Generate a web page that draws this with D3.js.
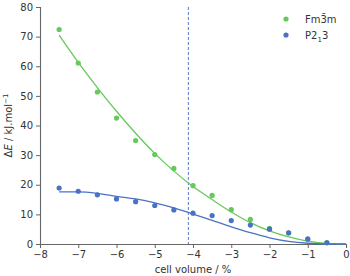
<!DOCTYPE html>
<html>
<head>
<meta charset="utf-8">
<script src="https://cdn.jsdelivr.net/npm/d3@7"></script>
<style>
	body { margin: 0; background: white; }
	text { font-family: "DejaVu Sans", sans-serif; }
</style>
</head>
<body>
<div id="chart"></div>
<script>
// measured points
const pointVolumes = [-7.5, -7, -6.5, -6, -5.5, -5, -4.5, -4, -3.5, -3, -2.5, -2, -1.5, -1, -0.5];
const fm3mPoints = [72.4, 61.1, 51.3, 42.5, 34.9, 30.2, 25.5, 19.7, 16.4, 11.6, 8.3, 5.3, 3.7, 1.5, 0.5];
const p213Points = [18.9, 17.8, 16.6, 15.2, 14.3, 13.0, 11.5, 10.4, 9.6, 7.9, 6.4, 5.0, 3.8, 1.7, 0.4];

// fitted curves
const fitVolumes = [-7.5, -7, -6.5, -6, -5.5, -5, -4.5, -4, -3.5, -3, -2.5, -2, -1.5, -1, -0.5, 0];
const fm3mFit = [70.5, 61.3, 52.8, 44.8, 37.4, 30.6, 24.6, 19.4, 15.0, 10.8, 7.2, 4.4, 2.4, 1.0, 0.2, 0];
const p213Fit = [17.6, 17.6, 17.1, 16.1, 15.2, 13.9, 12.2, 10.1, 8.0, 5.8, 3.8, 2.1, 0.9, 0.25, 0, 0];

const xTicks = [-8, -7, -6, -5, -4, -3, -2, -1, 0];
const yTicks = [0, 10, 20, 30, 40, 50, 60, 70, 80];
const cutoffVolume = -4.12;

const green = "#67c85c";
const blue = "#4a72c4";

const W = 350, H = 276;
const margin = { top: 7, right: 4, bottom: 32, left: 40 };

const svg = d3.select("#chart").append("svg")
	.attr("width", W)
	.attr("height", H);

const x = d3.scaleLinear().domain([-8, 0]).range([margin.left, W - margin.right]);
const y = d3.scaleLinear().domain([0, 80]).range([H - margin.bottom, margin.top]);

// axes
const xAxis = svg.append("g")
	.attr("transform", `translate(0,${H - margin.bottom})`)
	.call(d3.axisBottom(x).tickValues(xTicks).tickSize(4).tickPadding(3)
		.tickFormat(d => d < 0 ? "\u2212" + Math.abs(d) : d));

const yAxis = svg.append("g")
	.attr("transform", `translate(${margin.left},0)`)
	.call(d3.axisLeft(y).tickValues(yTicks).tickSize(4).tickPadding(3));

[xAxis, yAxis].forEach(g => {
	g.select(".domain").attr("stroke", "#666").attr("stroke-width", 1.1);
	g.selectAll(".tick line").attr("stroke", "#666");
	g.selectAll(".tick text").attr("fill", "#333").style("font-size", "10px")
		.style("font-family", "DejaVu Sans, sans-serif");
});

// dashed cutoff line
svg.append("line")
	.attr("x1", x(cutoffVolume)).attr("x2", x(cutoffVolume))
	.attr("y1", y(80)).attr("y2", y(0))
	.attr("stroke", blue)
	.attr("stroke-opacity", 0.85)
	.attr("stroke-width", 1.1)
	.attr("stroke-dasharray", "3,2");

const line = d3.line()
	.x((d, i) => x(fitVolumes[i]))
	.y(d => y(d))
	.curve(d3.curveMonotoneX);

svg.append("path").datum(fm3mFit)
	.attr("fill", "none").attr("stroke", green).attr("stroke-width", 1.3)
	.attr("d", line);

svg.append("path").datum(p213Fit)
	.attr("fill", "none").attr("stroke", blue).attr("stroke-width", 1.3)
	.attr("d", line);

svg.selectAll("circle.fm3m")
	.data(fm3mPoints)
	.enter().append("circle")
	.attr("class", "fm3m")
	.attr("cx", (d, i) => x(pointVolumes[i]))
	.attr("cy", d => y(d))
	.attr("r", 2.6)
	.attr("fill", green);

svg.selectAll("circle.p213")
	.data(p213Points)
	.enter().append("circle")
	.attr("class", "p213")
	.attr("cx", (d, i) => x(pointVolumes[i]))
	.attr("cy", d => y(d))
	.attr("r", 2.6)
	.attr("fill", blue);

// legend
const legend = svg.append("g").attr("transform", "translate(286,19)");
legend.append("circle").attr("cx", 0).attr("cy", 0).attr("r", 2.6).attr("fill", green);
legend.append("circle").attr("cx", 0).attr("cy", 16).attr("r", 2.6).attr("fill", blue);
legend.append("text").attr("x", 19).attr("y", 3.5)
	.style("font-size", "10px").attr("fill", "#333")
	.text("Fm3\u0304m");
const p = legend.append("text").attr("x", 19).attr("y", 19.5)
	.style("font-size", "10px").attr("fill", "#333");
p.append("tspan").text("P2");
p.append("tspan").attr("dy", 3).style("font-size", "7px").text("1");
p.append("tspan").attr("dy", -3).text("3");

// axis labels
svg.append("text")
	.attr("x", x(-4)).attr("y", H - 3)
	.attr("text-anchor", "middle")
	.style("font-size", "10px").attr("fill", "#333")
	.text("cell volume / %");

const yl = svg.append("text")
	.attr("transform", `translate(12,${y(40)}) rotate(-90)`)
	.attr("text-anchor", "middle")
	.style("font-size", "10px").attr("fill", "#333");
yl.append("tspan").text("\u0394");
yl.append("tspan").style("font-style", "italic").text("E");
yl.append("tspan").text(" / kJ.mol");
yl.append("tspan").attr("dy", -4).style("font-size", "7px").text("\u22121");
</script>
</body>
</html>
